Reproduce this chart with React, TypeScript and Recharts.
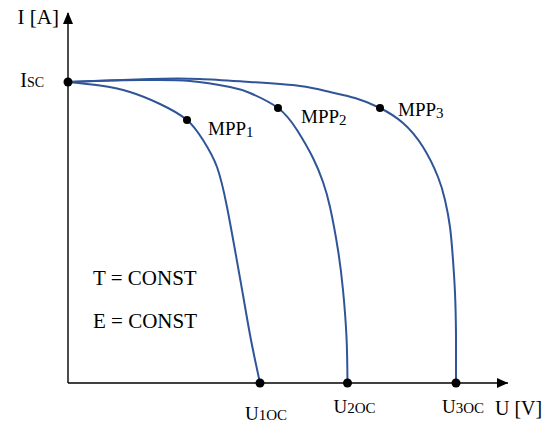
import React from 'react';
import { LineChart, Line, XAxis, YAxis, ReferenceLine, ReferenceDot } from 'recharts';

// I-U curves (U in arbitrary volts, I in arbitrary amps)
const u1 = [0, 3.2, 6.2, 9.2, 11.9, 13.5, 14.9, 15.9, 16.7, 17.5, 18.3, 19.2];
const i1 = [30.1, 29.75, 29.1, 27.9, 26.3, 24.3, 21.6, 17.6, 13.3, 8.8, 4.3, 0];

const u2 = [0, 4.2, 8.2, 12.2, 16.2, 18.2, 21.0, 22.9, 24.5, 25.5, 26.2, 27.0, 27.5, 27.85, 27.95];
const i2 = [30.1, 30.25, 30.3, 30.2, 29.6, 29.0, 27.5, 25.3, 22.5, 20.1, 17.6, 13.3, 9.3, 4.6, 0];

const u3 = [0, 8.2, 13.2, 18.2, 23.2, 26.2, 28.7, 31.2, 33.5, 35.5, 37.0, 37.7, 38.2, 38.5, 38.7, 38.8, 38.8];
const i3 = [30.1, 30.4, 30.4, 30.1, 29.7, 29.1, 28.5, 27.5, 26.0, 23.6, 20.6, 18.3, 15.6, 12.3, 9.0, 4.8, 0];

const isc = 30.1;
const mppU = [11.9, 21.0, 31.2];
const mppI = [26.3, 27.5, 27.5];
const mppSubs = ['1', '2', '3'];
const uoc = [19.2, 27.95, 38.8];
const uocSubs = ['1OC', '2OC', '3OC'];

const U_MAX = 44;
const I_MAX = 37;

const toPoints = (u: number[], i: number[]) => u.map((v, k) => ({ u: v, i: i[k] }));
const curves = [toPoints(u1, i1), toPoints(u2, i2), toPoints(u3, i3)];

const FONT = { fontFamily: 'Liberation Serif, Times New Roman, DejaVu Serif, serif' };
const BLUE = '#2F5597';

const mppOffsets = [
  [21, 15],
  [23, 15],
  [18, 8],
];
const uocOffsets = [
  [-15, 37],
  [-14, 30],
  [-14, 30],
];

export default function App() {
  return (
    <div style={{ position: 'absolute', left: 0, top: 0, width: 555, height: 423, background: '#fff' }}>
      <LineChart width={555} height={423} margin={{ top: 13, right: 47, bottom: 40, left: 68 }}>
        <XAxis type="number" dataKey="u" domain={[0, U_MAX]} hide />
        <YAxis type="number" dataKey="i" domain={[0, I_MAX]} hide />
        <ReferenceLine x={0} stroke="#000" strokeWidth={1.4} />
        <ReferenceLine y={0} stroke="#000" strokeWidth={1.4} />
        <ReferenceDot
          x={U_MAX}
          y={0}
          r={0}
          shape={(p: any) => (
            <g>
              <polygon
                points={`${p.cx},${p.cy} ${p.cx - 11},${p.cy - 5} ${p.cx - 11},${p.cy + 5}`}
                fill="#000"
              />
              <text x={p.cx - 13} y={p.cy + 32} style={FONT} fontSize={20} fill="#000">
                U [V]
              </text>
            </g>
          )}
        />
        <ReferenceDot
          x={0}
          y={I_MAX}
          r={0}
          shape={(p: any) => (
            <g>
              <polygon
                points={`${p.cx},${p.cy - 1} ${p.cx - 5},${p.cy + 11} ${p.cx + 5},${p.cy + 11}`}
                fill="#000"
              />
              <text x={p.cx - 9} y={p.cy + 11} textAnchor="end" style={FONT} fontSize={21} fill="#000">
                I [A]
              </text>
            </g>
          )}
        />
        {curves.map((c, k) => (
          <Line
            key={k}
            data={c}
            dataKey="i"
            type="natural"
            stroke={BLUE}
            strokeWidth={2}
            dot={false}
            activeDot={false}
            isAnimationActive={false}
          />
        ))}
        <ReferenceDot
          x={0}
          y={isc}
          r={4}
          shape={(p: any) => (
            <g>
              <circle cx={p.cx} cy={p.cy} r={4.5} fill="#000" />
              <text x={p.cx - 24} y={p.cy + 5} textAnchor="end" style={FONT} fill="#000">
                <tspan fontSize={20}>I</tspan>
                <tspan fontSize={14}>SC</tspan>
              </text>
            </g>
          )}
        />
        {mppU.map((u, k) => (
          <ReferenceDot
            key={'mpp' + k}
            x={u}
            y={mppI[k]}
            r={4}
            shape={(p: any) => (
              <g>
                <circle cx={p.cx} cy={p.cy} r={4} fill="#000" />
                <text x={p.cx + mppOffsets[k][0]} y={p.cy + mppOffsets[k][1]} style={FONT} fill="#000">
                  <tspan fontSize={19}>MPP</tspan>
                  <tspan fontSize={15} dy={2}>
                    {mppSubs[k]}
                  </tspan>
                </text>
              </g>
            )}
          />
        ))}
        {uoc.map((u, k) => (
          <ReferenceDot
            key={'uoc' + k}
            x={u}
            y={0}
            r={4}
            shape={(p: any) => (
              <g>
                <circle cx={p.cx} cy={p.cy} r={4.5} fill="#000" />
                <text x={p.cx + uocOffsets[k][0]} y={p.cy + uocOffsets[k][1]} style={FONT} fill="#000">
                  <tspan fontSize={19}>U</tspan>
                  <tspan fontSize={15}>{uocSubs[k]}</tspan>
                </text>
              </g>
            )}
          />
        ))}
      </LineChart>
      <svg
        width={555}
        height={423}
        style={{ position: 'absolute', left: 0, top: 0, pointerEvents: 'none' }}
      >
        <text x={93} y={285} style={FONT} fontSize={21} fill="#000">
          T = CONST
        </text>
        <text x={93} y={328} style={FONT} fontSize={21} fill="#000">
          E = CONST
        </text>
      </svg>
    </div>
  );
}
